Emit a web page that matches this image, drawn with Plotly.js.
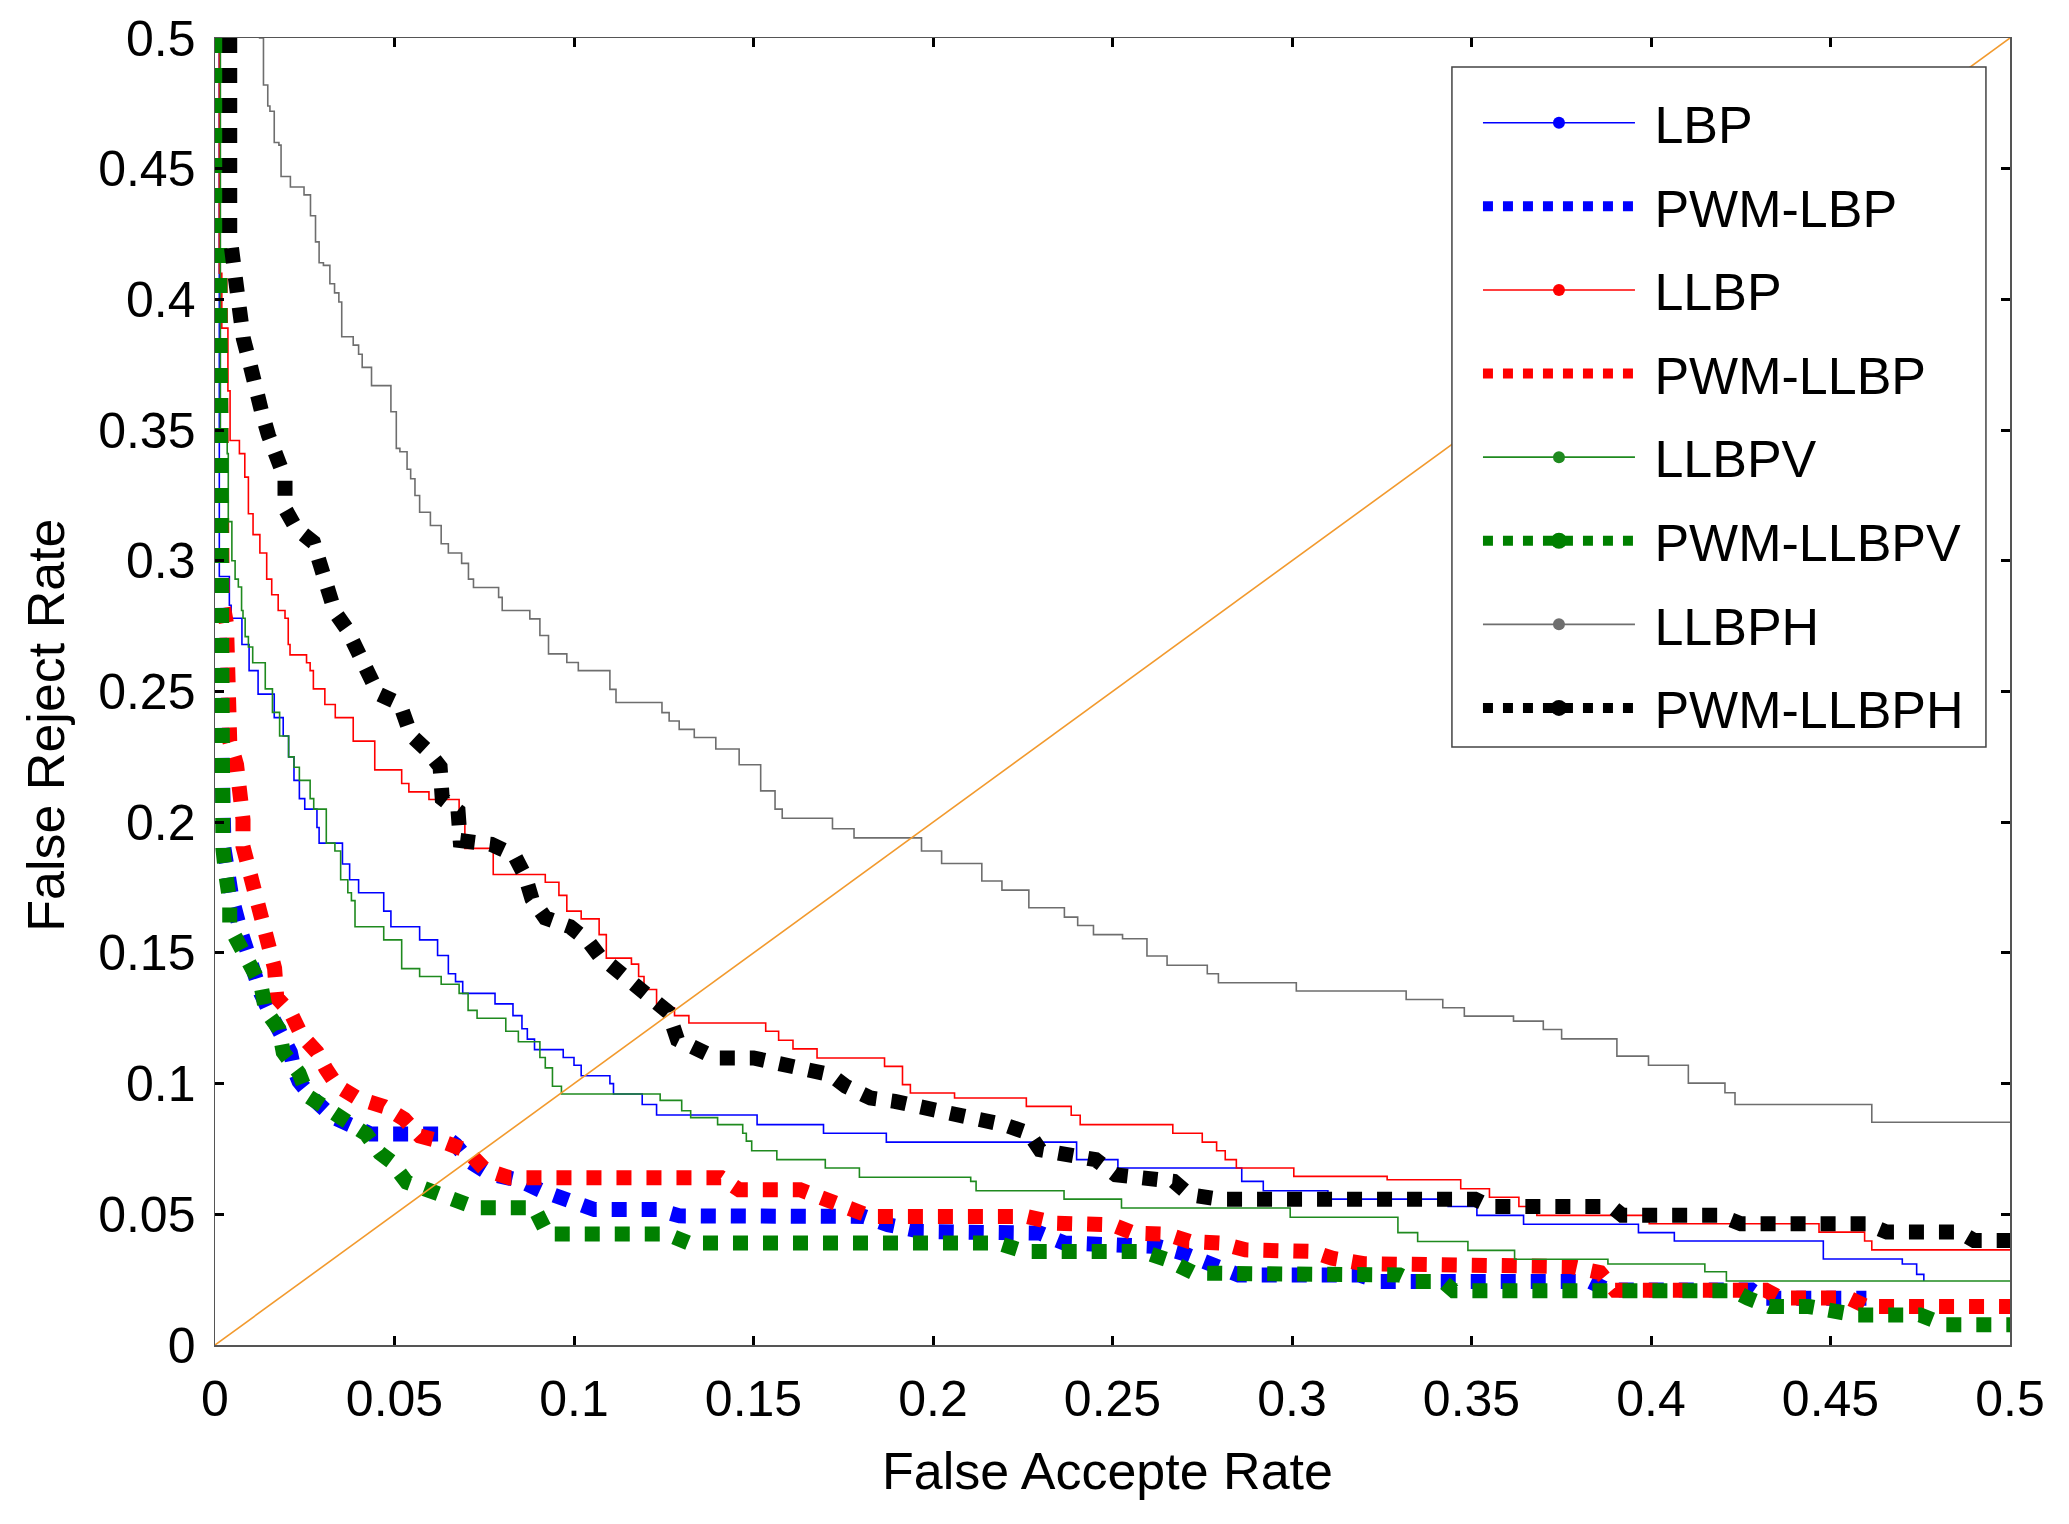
<!DOCTYPE html>
<html>
<head>
<meta charset="utf-8">
<script src="https://cdn.plot.ly/plotly-3.0.1.min.js"></script>
<style>
  html, body { margin: 0; padding: 0; background: #fff; }
  #det_chart { width: 2069px; height: 1524px; }
</style>
</head>
<body>
<div id="det_chart"></div>
<script>
// FRR vs FAR readings, one pair of arrays per method
var lbp_far = [0, 0.0012, 0.004, 0.0045, 0.0075, 0.0095, 0.012, 0.0165, 0.019, 0.0205, 0.022, 0.0235, 0.025, 0.0284, 0.029, 0.0355, 0.0375, 0.04, 0.047, 0.049, 0.057, 0.062, 0.065, 0.067, 0.069, 0.078, 0.083, 0.0855, 0.087, 0.089, 0.097, 0.1, 0.102, 0.11, 0.111, 0.119, 0.123, 0.151, 0.1695, 0.187, 0.24, 0.2515, 0.286, 0.292, 0.31, 0.3435, 0.3515, 0.3645, 0.3965, 0.4065, 0.448, 0.47, 0.474, 0.476]
var lbp_frr = [0.5, 0.294, 0.283, 0.278, 0.268, 0.258, 0.249, 0.24, 0.233, 0.225, 0.216, 0.209, 0.205, 0.198, 0.192, 0.184, 0.178, 0.173, 0.166, 0.16, 0.155, 0.149, 0.142, 0.139, 0.1345, 0.1305, 0.126, 0.121, 0.117, 0.113, 0.11, 0.107, 0.103, 0.1, 0.096, 0.092, 0.088, 0.0843, 0.081, 0.0776, 0.0709, 0.0677, 0.0626, 0.059, 0.0558, 0.053, 0.0496, 0.0462, 0.043, 0.0398, 0.0329, 0.031, 0.027, 0.0245]

var pwm_lbp_far = [0.001, 0.001, 0.0025, 0.0035, 0.0047, 0.0072, 0.0085, 0.011, 0.0128, 0.0153, 0.019, 0.021, 0.022, 0.0234, 0.0272, 0.0328, 0.0434, 0.0633, 0.067, 0.0708, 0.0764, 0.0845, 0.0908, 0.0989, 0.1057, 0.1232, 0.1294, 0.1807, 0.1875, 0.1968, 0.2037, 0.2124, 0.2298, 0.2366, 0.254, 0.2627, 0.2696, 0.2776, 0.2851, 0.3186, 0.3245, 0.383, 0.388, 0.428, 0.4313, 0.46]
var pwm_lbp_frr = [0.5, 0.29, 0.19, 0.181, 0.171, 0.158, 0.152, 0.1425, 0.1345, 0.127, 0.1185, 0.112, 0.1056, 0.1008, 0.0944, 0.0872, 0.0807, 0.0807, 0.0767, 0.0703, 0.0655, 0.0631, 0.0591, 0.055, 0.0518, 0.0518, 0.0494, 0.0492, 0.046, 0.0434, 0.0434, 0.0428, 0.0428, 0.039, 0.039, 0.0377, 0.0351, 0.0307, 0.0268, 0.0268, 0.0243, 0.0243, 0.021, 0.021, 0.0179, 0.0179]

var llbp_far = [0, 0.0012, 0.0019, 0.0036, 0.0042, 0.0068, 0.0083, 0.0093, 0.0106, 0.0125, 0.0144, 0.0158, 0.0176, 0.0195, 0.0204, 0.0209, 0.0255, 0.0265, 0.0274, 0.0306, 0.0335, 0.0385, 0.0445, 0.052, 0.054, 0.0596, 0.068, 0.0696, 0.0775, 0.092, 0.0958, 0.098, 0.102, 0.107, 0.109, 0.116, 0.118, 0.1195, 0.123, 0.128, 0.132, 0.1534, 0.157, 0.161, 0.1677, 0.1865, 0.1915, 0.1937, 0.206, 0.226, 0.2385, 0.241, 0.2668, 0.275, 0.279, 0.2814, 0.2845, 0.3005, 0.3265, 0.347, 0.355, 0.3632, 0.3682, 0.3995, 0.4468, 0.4595, 0.4615, 0.5]
var llbp_frr = [0.5, 0.41, 0.389, 0.365, 0.346, 0.341, 0.332, 0.318, 0.31, 0.303, 0.293, 0.287, 0.281, 0.278, 0.268, 0.264, 0.261, 0.258, 0.251, 0.245, 0.24, 0.231, 0.22, 0.2148, 0.2116, 0.2087, 0.2, 0.19, 0.18, 0.177, 0.172, 0.166, 0.163, 0.157, 0.148, 0.1457, 0.141, 0.136, 0.129, 0.126, 0.1232, 0.12, 0.1166, 0.1133, 0.1098, 0.1066, 0.0996, 0.0964, 0.0945, 0.0913, 0.0879, 0.0843, 0.081, 0.0776, 0.0743, 0.0709, 0.0677, 0.0645, 0.0632, 0.0598, 0.0565, 0.053, 0.0496, 0.0464, 0.0432, 0.0398, 0.0364, 0.0364]

var pwm_llbp_far = [0.001, 0.001, 0.002, 0.0032, 0.0037, 0.0042, 0.0041, 0.006, 0.0072, 0.0078, 0.0078, 0.0097, 0.0122, 0.0135, 0.0147, 0.0166, 0.0172, 0.021, 0.0241, 0.0284, 0.0309, 0.034, 0.0397, 0.0471, 0.0527, 0.0571, 0.064, 0.0702, 0.0752, 0.082, 0.141, 0.146, 0.163, 0.1695, 0.1757, 0.1826, 0.226, 0.2341, 0.25, 0.2559, 0.2652, 0.2714, 0.2801, 0.287, 0.3056, 0.3112, 0.32, 0.37, 0.378, 0.3858, 0.39, 0.432, 0.436, 0.455, 0.46, 0.5]
var pwm_llbp_frr = [0.5, 0.3, 0.285, 0.276, 0.262, 0.245, 0.231, 0.222, 0.2124, 0.201, 0.1907, 0.1803, 0.1714, 0.1618, 0.1522, 0.1441, 0.1329, 0.1273, 0.1185, 0.112, 0.1056, 0.0992, 0.0944, 0.0912, 0.0864, 0.0799, 0.0775, 0.0743, 0.0671, 0.064, 0.064, 0.0594, 0.0594, 0.0562, 0.0517, 0.0492, 0.0492, 0.0466, 0.046, 0.0428, 0.0424, 0.0396, 0.039, 0.0364, 0.0358, 0.0332, 0.0311, 0.0311, 0.03, 0.0277, 0.0209, 0.0209, 0.018, 0.018, 0.0147, 0.0147]

var llbpv_far = [0, 0.0015, 0.0023, 0.0034, 0.0037, 0.0047, 0.0056, 0.0065, 0.0074, 0.0078, 0.0084, 0.0093, 0.0105, 0.014, 0.016, 0.018, 0.0205, 0.022, 0.0235, 0.0265, 0.0275, 0.031, 0.0334, 0.035, 0.037, 0.038, 0.039, 0.047, 0.052, 0.057, 0.063, 0.068, 0.0705, 0.073, 0.081, 0.0845, 0.0905, 0.092, 0.094, 0.0965, 0.124, 0.13, 0.1325, 0.14, 0.147, 0.148, 0.1495, 0.1565, 0.17, 0.1795, 0.2105, 0.212, 0.2365, 0.2525, 0.2995, 0.3295, 0.335, 0.349, 0.362, 0.388, 0.415, 0.421, 0.5]
var llbpv_frr = [0.5, 0.348, 0.3465, 0.341, 0.315, 0.3, 0.293, 0.29, 0.281, 0.278, 0.271, 0.267, 0.261, 0.251, 0.242, 0.233, 0.225, 0.221, 0.216, 0.209, 0.205, 0.192, 0.189, 0.178, 0.173, 0.17, 0.16, 0.155, 0.144, 0.141, 0.138, 0.1345, 0.128, 0.125, 0.12, 0.116, 0.11, 0.106, 0.099, 0.096, 0.0936, 0.0896, 0.087, 0.0843, 0.081, 0.078, 0.0743, 0.0709, 0.0677, 0.0642, 0.0626, 0.059, 0.0558, 0.0524, 0.0489, 0.043, 0.0396, 0.0362, 0.0328, 0.031, 0.028, 0.0245, 0.0245]

var pwm_llbpv_far = [0.001, 0.0015, 0.0022, 0.0029, 0.0041, 0.0041, 0.0072, 0.011, 0.0128, 0.0141, 0.0178, 0.019, 0.0234, 0.0259, 0.0315, 0.0365, 0.0421, 0.0459, 0.049, 0.0534, 0.0602, 0.0671, 0.0727, 0.0889, 0.0914, 0.0926, 0.1257, 0.132, 0.218, 0.2254, 0.2584, 0.2652, 0.2727, 0.2807, 0.2894, 0.33, 0.334, 0.342, 0.345, 0.423, 0.427, 0.433, 0.444, 0.457, 0.475, 0.482, 0.5]
var pwm_llbpv_frr = [0.5, 0.25, 0.19, 0.181, 0.17, 0.16, 0.152, 0.145, 0.1377, 0.128, 0.1209, 0.112, 0.104, 0.0952, 0.0904, 0.0856, 0.0807, 0.0735, 0.0703, 0.0623, 0.0591, 0.0559, 0.0525, 0.0525, 0.047, 0.0425, 0.0425, 0.039, 0.039, 0.0358, 0.0358, 0.0326, 0.0275, 0.0275, 0.0268, 0.0268, 0.0243, 0.0243, 0.0208, 0.0208, 0.0179, 0.0147, 0.0147, 0.0115, 0.0115, 0.0077, 0.0077]

var llbph_far = [0.0122, 0.0135, 0.0147, 0.0153, 0.0165, 0.0178, 0.0184, 0.021, 0.0248, 0.0266, 0.028, 0.029, 0.0302, 0.032, 0.0333, 0.0345, 0.0353, 0.0385, 0.04, 0.041, 0.0436, 0.049, 0.0505, 0.0515, 0.0535, 0.0545, 0.0557, 0.057, 0.06, 0.063, 0.065, 0.0687, 0.0706, 0.072, 0.079, 0.08, 0.0877, 0.0905, 0.0929, 0.098, 0.1012, 0.11, 0.1117, 0.1245, 0.1265, 0.1293, 0.1335, 0.1395, 0.146, 0.152, 0.156, 0.158, 0.172, 0.178, 0.1968, 0.2024, 0.2136, 0.2192, 0.2267, 0.2366, 0.2403, 0.2447, 0.2528, 0.2596, 0.2652, 0.2764, 0.2795, 0.3012, 0.3318, 0.342, 0.348, 0.3617, 0.37, 0.3751, 0.3905, 0.3993, 0.4104, 0.4206, 0.4234, 0.4615, 0.5]
var llbph_frr = [0.5, 0.482, 0.474, 0.472, 0.46, 0.459, 0.447, 0.443, 0.44, 0.432, 0.422, 0.414, 0.413, 0.406, 0.4025, 0.399, 0.3857, 0.3825, 0.379, 0.374, 0.367, 0.357, 0.343, 0.3417, 0.335, 0.3314, 0.325, 0.3186, 0.3135, 0.3065, 0.303, 0.299, 0.293, 0.2898, 0.286, 0.281, 0.2778, 0.2714, 0.2644, 0.2611, 0.258, 0.2508, 0.2458, 0.2419, 0.2387, 0.2355, 0.2324, 0.228, 0.222, 0.212, 0.205, 0.2015, 0.1975, 0.194, 0.189, 0.1842, 0.1775, 0.174, 0.1673, 0.1637, 0.1605, 0.157, 0.1554, 0.1488, 0.1453, 0.142, 0.1386, 0.1354, 0.1322, 0.129, 0.1258, 0.1239, 0.1207, 0.1171, 0.1105, 0.107, 0.1002, 0.0965, 0.092, 0.0852, 0.0852]

var pwm_llbph_far = [0.0041, 0.0041, 0.0055, 0.0065, 0.0079, 0.0097, 0.011, 0.013, 0.0149, 0.0172, 0.0195, 0.0195, 0.0227, 0.0274, 0.0292, 0.0311, 0.0334, 0.0367, 0.0395, 0.0422, 0.0455, 0.0515, 0.0546, 0.059, 0.0627, 0.0633, 0.0677, 0.0683, 0.077, 0.0833, 0.0864, 0.0883, 0.092, 0.0989, 0.1039, 0.107, 0.112, 0.117, 0.1213, 0.1263, 0.1288, 0.1338, 0.1394, 0.15, 0.1565, 0.1645, 0.1714, 0.1757, 0.1826, 0.1894, 0.1975, 0.2049, 0.2111, 0.2198, 0.2267, 0.2298, 0.2379, 0.2453, 0.2509, 0.259, 0.2671, 0.2714, 0.2795, 0.351, 0.3552, 0.389, 0.392, 0.419, 0.425, 0.46, 0.4657, 0.486, 0.49, 0.5]
var pwm_llbph_frr = [0.5, 0.425, 0.41, 0.394, 0.385, 0.3755, 0.365, 0.357, 0.348, 0.341, 0.3314, 0.3199, 0.3122, 0.3071, 0.2995, 0.2906, 0.2804, 0.274, 0.2664, 0.2574, 0.2491, 0.2453, 0.2332, 0.2276, 0.2212, 0.209, 0.2043, 0.193, 0.1915, 0.1875, 0.1794, 0.1706, 0.1634, 0.16, 0.1546, 0.149, 0.1433, 0.1385, 0.1321, 0.1273, 0.1169, 0.1128, 0.1098, 0.1098, 0.1079, 0.1066, 0.1034, 0.099, 0.0945, 0.0932, 0.0913, 0.0894, 0.0868, 0.0843, 0.081, 0.0747, 0.0722, 0.0709, 0.0651, 0.0639, 0.0626, 0.0575, 0.0558, 0.0558, 0.053, 0.053, 0.0496, 0.0496, 0.0464, 0.0464, 0.0432, 0.0432, 0.04, 0.04]

// equal error rate line
var eer_far = [0, 0.5]
var eer_frr = [0, 0.5]

var tick_vals = [0, 0.05, 0.1, 0.15, 0.2, 0.25, 0.3, 0.35, 0.4, 0.45, 0.5]
var tick_text = ['0', '0.05', '0.1', '0.15', '0.2', '0.25', '0.3', '0.35', '0.4', '0.45', '0.5']

var methods = [
    {name: 'LBP', x: lbp_far, y: lbp_frr, color: '#0000ff', width: 1.6, dash: 'solid', shape: 'hv', dot: 12},
    {name: 'PWM-LBP', x: pwm_lbp_far, y: pwm_lbp_frr, color: '#0000ff', width: 15, dash: 'dot', shape: 'linear', dot: 0},
    {name: 'LLBP', x: llbp_far, y: llbp_frr, color: '#ff0000', width: 1.6, dash: 'solid', shape: 'hv', dot: 12},
    {name: 'PWM-LLBP', x: pwm_llbp_far, y: pwm_llbp_frr, color: '#ff0000', width: 15, dash: 'dot', shape: 'linear', dot: 0},
    {name: 'LLBPV', x: llbpv_far, y: llbpv_frr, color: '#1f8a1f', width: 1.6, dash: 'solid', shape: 'hv', dot: 12},
    {name: 'PWM-LLBPV', x: pwm_llbpv_far, y: pwm_llbpv_frr, color: '#008000', width: 15, dash: 'dot', shape: 'linear', dot: 24},
    {name: 'LLBPH', x: llbph_far, y: llbph_frr, color: '#6e6e6e', width: 1.6, dash: 'solid', shape: 'hv', dot: 12},
    {name: 'PWM-LLBPH', x: pwm_llbph_far, y: pwm_llbph_frr, color: '#000000', width: 15, dash: 'dot', shape: 'linear', dot: 24},
]

var data = []
methods.forEach(function (m) {
    data.push({
        x: m.x,
        y: m.y,
        type: 'scatter',
        mode: 'lines',
        name: m.name,
        showlegend: false,
        line: {color: m.color, width: m.width, dash: m.dash, shape: m.shape},
        hoverinfo: 'skip',
    })
})

data.push({
    x: eer_far,
    y: eer_frr,
    type: 'scatter',
    mode: 'lines',
    name: 'EER',
    showlegend: false,
    line: {color: '#f29a2e', width: 1.6},
    hoverinfo: 'skip',
})

// legend entries (no data of their own)
methods.forEach(function (m, i) {
    data.push({
        x: [null],
        y: [null],
        type: 'scatter',
        mode: m.dot ? 'lines+markers' : 'lines',
        name: '\u00a0' + m.name,
        legendgroup: 'g' + i,
        line: {color: m.color, width: m.width, dash: m.dash},
        marker: {color: m.color, size: m.dot, symbol: 'circle'},
    })
})

var font_family = 'Arial, "Liberation Sans", sans-serif'

var axis_common = {
    range: [0, 0.5],
    tickvals: tick_vals,
    ticktext: tick_text,
    ticks: 'inside',
    ticklen: 9,
    tickwidth: 3,
    tickcolor: '#000',
    showline: true,
    linecolor: '#555',
    linewidth: 1.5,
    mirror: 'ticks',
    showgrid: false,
    zeroline: false,
    fixedrange: true,
    tickfont: {family: font_family, size: 50, color: '#000'},
}

var layout = {
    width: 2069,
    height: 1524,
    margin: {l: 215, r: 59, t: 38, b: 179, pad: 0},
    paper_bgcolor: '#fff',
    plot_bgcolor: '#fff',
    font: {family: font_family, color: '#000'},
    xaxis: Object.assign({}, axis_common, {ticklabelstandoff: 9}),
    yaxis: Object.assign({}, axis_common, {ticklabelstandoff: 8}),
    annotations: [
        {
            text: 'False Accepte Rate',
            xref: 'paper', yref: 'paper',
            x: 0.497, y: -0.0966,
            xanchor: 'center', yanchor: 'middle',
            showarrow: false,
            font: {size: 52, color: '#000'},
        },
        {
            text: 'False Reject Rate',
            xref: 'paper', yref: 'paper',
            x: -0.094, y: 0.474,
            xanchor: 'center', yanchor: 'middle',
            textangle: -90,
            showarrow: false,
            font: {size: 52, color: '#000'},
        },
    ],
    // legend frame
    shapes: [
        {
            type: 'rect',
            xref: 'paper', yref: 'paper',
            x0: 0.6891, x1: 0.9866, y0: 0.4575, y1: 0.9778,
            fillcolor: '#fff',
            line: {color: '#444', width: 1.5},
            layer: 'above',
        },
    ],
    legend: {
        x: 0.7036,
        y: 0.966,
        xanchor: 'left',
        yanchor: 'top',
        bgcolor: 'rgba(0,0,0,0)',
        borderwidth: 0,
        font: {size: 52, color: '#000'},
        itemwidth: 152,
        tracegroupgap: 13,
        traceorder: 'grouped',
    },
}

Plotly.newPlot('det_chart', data, layout, {displayModeBar: false, staticPlot: true})
</script>
</body>
</html>
